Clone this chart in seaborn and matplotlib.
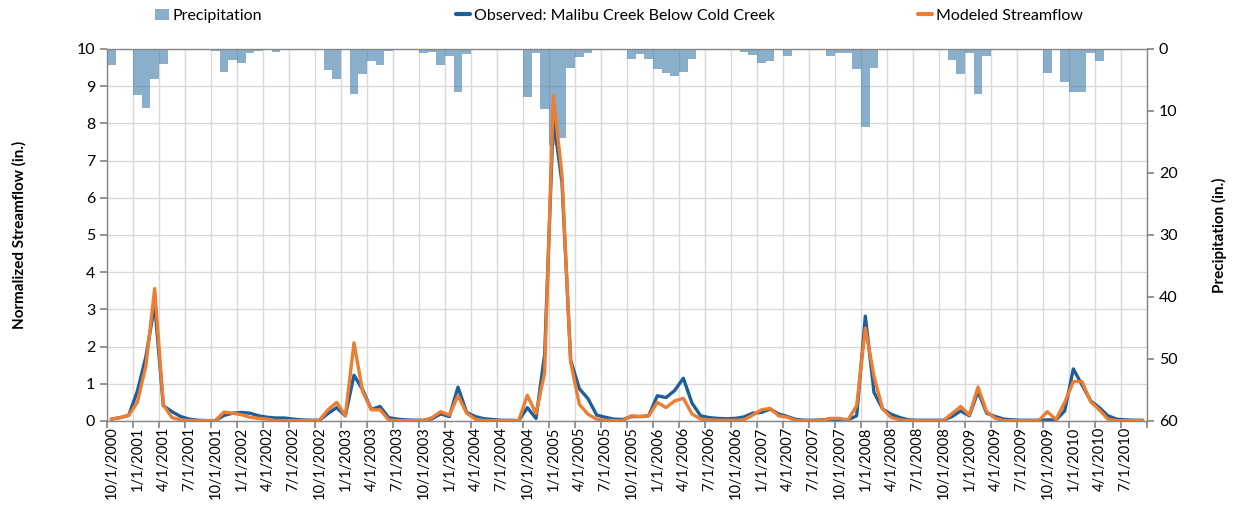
import numpy as np
import pandas as pd
import seaborn as sns
import matplotlib.pyplot as plt
from matplotlib.patches import Patch
from matplotlib.lines import Line2D

# monthly values, Oct 2000 - Sep 2010
precip = [
    2.5, 0, 0, 7.4, 9.5, 4.9, 2.4, 0, 0, 0, 0, 0,
    0.3, 3.7, 1.7, 2.2, 0.7, 0.3, 0, 0.5, 0, 0, 0.2, 0.1,
    0, 3.4, 4.9, 0, 7.2, 4.0, 1.9, 2.6, 0.4, 0.2, 0.2, 0,
    0.6, 0.5, 2.6, 1.2, 7.0, 0.8, 0.2, 0, 0, 0, 0, 0,
    7.7, 0.7, 9.6, 15.5, 14.3, 3.1, 1.3, 0.7, 0.1, 0, 0.1, 0,
    1.6, 0.8, 1.6, 3.3, 3.8, 4.3, 3.7, 1.6, 0, 0, 0, 0,
    0.2, 0.5, 1.0, 2.3, 1.9, 0.2, 1.2, 0, 0, 0, 0, 1.1,
    0.7, 0.6, 3.3, 12.6, 3.0, 0, 0.1, 0.2, 0, 0, 0, 0,
    0, 1.8, 4.0, 0.6, 7.2, 1.1, 0.1, 0, 0.2, 0, 0, 0,
    3.9, 0, 5.3, 6.9, 7.0, 0.6, 2.0, 0.1, 0, 0, 0, 0,
]
observed = [
    0.05, 0.09, 0.15, 0.8, 1.74, 3.13, 0.41, 0.25, 0.12, 0.05, 0.02, 0.01,
    0.01, 0.15, 0.21, 0.23, 0.21, 0.14, 0.1, 0.08, 0.08, 0.05, 0.03, 0.02,
    0.02, 0.2, 0.36, 0.14, 1.23, 0.84, 0.31, 0.39, 0.09, 0.05, 0.03, 0.02,
    0.02, 0.06, 0.19, 0.12, 0.91, 0.23, 0.12, 0.06, 0.04, 0.02, 0.02, 0.01,
    0.36, 0.07, 1.8, 8.15, 6.4, 1.63, 0.87, 0.6, 0.16, 0.1, 0.05, 0.04,
    0.12, 0.12, 0.14, 0.68, 0.63, 0.82, 1.15, 0.48, 0.14, 0.09, 0.07, 0.06,
    0.07, 0.11, 0.21, 0.23, 0.32, 0.19, 0.12, 0.04, 0.02, 0.02, 0.03, 0.05,
    0.04, 0.03, 0.14, 2.82, 0.77, 0.32, 0.18, 0.09, 0.03, 0.02, 0.02, 0.02,
    0.02, 0.12, 0.27, 0.14, 0.79, 0.21, 0.12, 0.05, 0.03, 0.02, 0.02, 0.02,
    0.03, 0.03, 0.27, 1.4, 0.97, 0.54, 0.36, 0.14, 0.05, 0.03, 0.02, 0.02,
]
modeled = [
    0.05, 0.09, 0.15, 0.5, 1.5, 3.56, 0.43, 0.09, 0.03, 0.01, 0.01, 0.01,
    0.01, 0.24, 0.21, 0.17, 0.1, 0.07, 0.05, 0.01, 0.01, 0.01, 0.01, 0.01,
    0.02, 0.3, 0.5, 0.14, 2.1, 0.79, 0.3, 0.3, 0.03, 0.01, 0.01, 0.01,
    0.01, 0.09, 0.25, 0.16, 0.68, 0.21, 0.05, 0.01, 0.01, 0.01, 0.01, 0.01,
    0.69, 0.2, 1.3, 8.74, 6.6, 1.58, 0.45, 0.18, 0.05, 0.02, 0.01, 0.01,
    0.14, 0.12, 0.14, 0.5, 0.36, 0.54, 0.61, 0.19, 0.05, 0.03, 0.02, 0.02,
    0.02, 0.03, 0.16, 0.3, 0.34, 0.14, 0.1, 0.01, 0.01, 0.01, 0.02, 0.07,
    0.07, 0.03, 0.41, 2.5, 1.2, 0.32, 0.09, 0.03, 0.01, 0.01, 0.01, 0.01,
    0.01, 0.2, 0.39, 0.16, 0.91, 0.25, 0.07, 0.01, 0.01, 0.01, 0.01, 0.01,
    0.25, 0.04, 0.5, 1.06, 1.06, 0.52, 0.3, 0.05, 0.01, 0.01, 0.01, 0.01,
]

months = pd.date_range("2000-10-01", periods=len(precip), freq="MS")
month_labels = [f"{d.month}/{d.day}/{d.year}" for d in months]

df = pd.DataFrame({
    "month": np.arange(len(precip)),
    "precip": precip,
    "observed": observed,
    "modeled": modeled,
})

BAR = "#4b84af"
BLUE = "#1f5f99"
ORANGE = "#ed7d31"
GRID = "#d9d9d9"
AXIS = "#868686"

sns.set_theme(style="white")
plt.rcParams["font.family"] = ["Lato", "DejaVu Sans"]
plt.rcParams["text.color"] = "black"
plt.rcParams["axes.labelcolor"] = "black"
plt.rcParams["xtick.color"] = "black"
plt.rcParams["ytick.color"] = "black"

fig = plt.figure(figsize=(12.38, 5.13), dpi=100)
ax = fig.add_axes([107 / 1238, 1 - 421 / 513, 1040 / 1238, 372 / 513])
ax2 = ax.twinx()   # precipitation bars, right axis
ax3 = ax.twinx()   # streamflow lines on top

# bars hanging from the top of an inverted axis
sns.barplot(data=df, x="month", y="precip", ax=ax2, color=BAR, alpha=0.65,
            width=1.0, linewidth=0, saturation=1, errorbar=None)
sns.lineplot(data=df, x="month", y="observed", ax=ax3, color=BLUE, linewidth=2.4)
sns.lineplot(data=df, x="month", y="modeled", ax=ax3, color=ORANGE, linewidth=2.4)

n = len(precip)
ax.set_xlim(-0.5, n - 0.5)
ax.set_ylim(0, 10)
ax3.set_ylim(0, 10)
ax2.set_ylim(60, 0)

# x axis: ticks + grid at category boundaries, labels at centers
bounds = np.arange(-0.5, n, 3)
ax.set_xticks(bounds, labels=[""] * len(bounds))
ax.set_xticks(np.arange(0, n, 3), labels=month_labels[::3], minor=True)
ax.tick_params(axis="x", which="major", length=5, color=AXIS, direction="out", bottom=True)
ax.tick_params(axis="x", which="minor", length=0, labelsize=10.5, rotation=90, pad=4)

ax.set_yticks(range(0, 11))
ax.tick_params(axis="y", length=5, color=AXIS, direction="out", left=True, labelsize=11.5)
ax.grid(True, which="major", color=GRID, linewidth=1)

ax2.set_yticks(range(0, 61, 10))
ax2.tick_params(axis="y", length=5, color=AXIS, direction="out", right=True, labelsize=11.5)

ax.set_xlabel("")
ax.set_ylabel("Normalized Streamflow (in.)", fontsize=11, fontweight="bold", labelpad=36)
ax2.set_ylabel("Precipitation (in.)", fontsize=11, fontweight="bold", labelpad=25)
ax3.yaxis.set_visible(False)
ax3.set_xlabel("")

for a in (ax, ax2):
    for s in a.spines.values():
        s.set_visible(False)
for s in ax3.spines.values():
    s.set_visible(True)
    s.set_color(AXIS)
    s.set_linewidth(1)

# legend entries placed one by one across the top
entries = [
    (Patch(facecolor="#8aafcb", edgecolor="none"), "Precipitation", 155),
    (Line2D([], [], color=BLUE, linewidth=3), "Observed: Malibu Creek Below Cold Creek", 456),
    (Line2D([], [], color=ORANGE, linewidth=3), "Modeled Streamflow", 918),
]
for handle, label, xpix in entries:
    fig.legend([handle], [label], loc="center left",
               bbox_to_anchor=(xpix / 1238, 1 - 16 / 513), frameon=False,
               handlelength=0.9, handletextpad=0.2, borderpad=0, borderaxespad=0,
               fontsize=11.5)

fig.savefig("out.png", dpi=100)
